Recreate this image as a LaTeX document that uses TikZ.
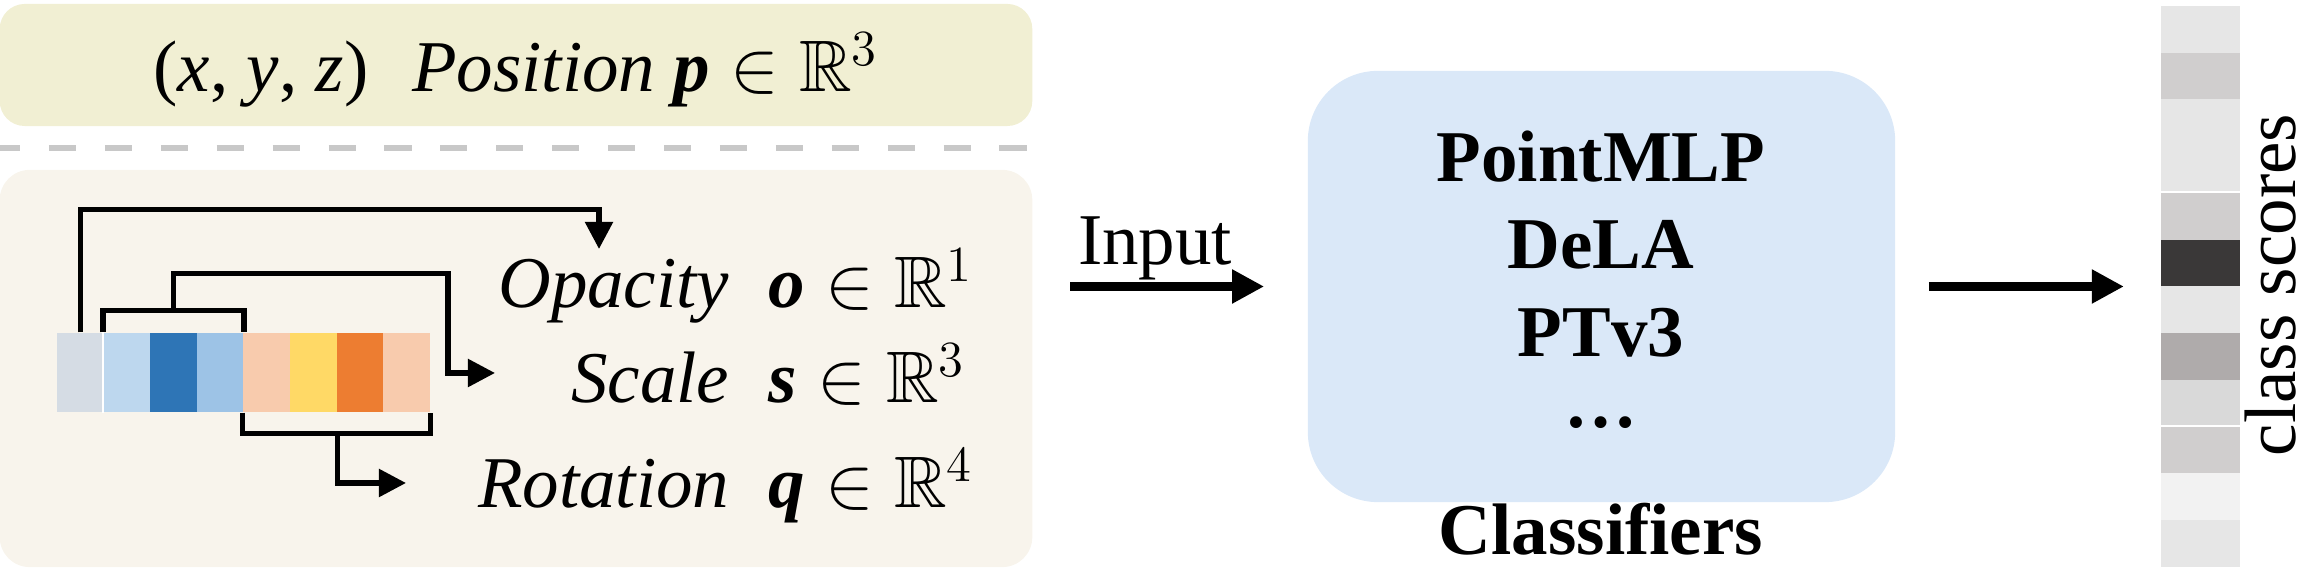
\documentclass[tikz,border=0pt]{standalone}
\usepackage{amsmath, amssymb}
\usepackage{fontspec}
\setmainfont{Liberation Serif}
\usetikzlibrary{positioning, arrows.meta, calc}

\definecolor{posfill}{HTML}{F1EFD3}
\definecolor{attrfill}{HTML}{F8F4EC}
\definecolor{clffill}{HTML}{DAE8F8}
\definecolor{sepgray}{HTML}{C8C8C8}
\definecolor{gsA}{HTML}{D5DCE4}
\definecolor{gsB}{HTML}{BDD7EE}
\definecolor{gsC}{HTML}{2E75B6}
\definecolor{gsD}{HTML}{9DC3E6}
\definecolor{gsE}{HTML}{F8CBAD}
\definecolor{gsF}{HTML}{FFD966}
\definecolor{gsG}{HTML}{ED7D31}
\definecolor{scA}{HTML}{E6E6E6}
\definecolor{scB}{HTML}{D0CECE}
\definecolor{scC}{HTML}{AFABAB}
\definecolor{scD}{HTML}{D9D9D9}
\definecolor{scE}{HTML}{3A3838}
\definecolor{scF}{HTML}{F2F2F2}

\begin{document}
\begin{tikzpicture}[
  x=0.01cm, y=-0.01cm,
  every node/.style={font=\fontsize{20.74}{25}\selectfont, inner sep=0pt},
  clfname/.style={font=\fontsize{20.74}{25}\selectfont\bfseries},
  panel/.style={rounded corners=0.3cm, minimum width=10.32cm},
  cell/.style={minimum width=0.466cm, minimum height=0.79cm},
  scorecell/.style={minimum width=0.79cm, minimum height=0.4675cm},
  conn/.style={line width=1.5pt},
  conntip/.style={-{Triangle[length=7.7pt, width=7.7pt]}},
  bigarrow/.style={line width=2.6pt, -{Triangle[length=9.1pt, width=9.1pt]}}
]
\useasboundingbox (0,0) rectangle (2312,571);

% attribute panels
\node[panel, fill=posfill, rounded corners=0.25cm, minimum height=1.22cm] (posbox) at (516,65) {};
\node[panel, fill=attrfill, minimum height=3.97cm] (attrbox) at (516,368.5) {};
\draw[sepgray, line width=1.7pt, dash pattern=on 7.7pt off 8.2pt, dash phase=1.7pt]
  ($(posbox.south west)!0.5!(attrbox.north west)$) -- ($(posbox.south east)!0.5!(attrbox.north east)$);
\node[anchor=base] (postext) at (516,92)
  {(\textit{x}, \textit{y}, \textit{z})\hspace{0.6em}\textit{Position}\ $\text{\bfseries\itshape p}\in\mathbb{R}^{3}$};

% gaussian attribute vector
\foreach \c [count=\i] in {gsA,gsB,gsC,gsD,gsE,gsF,gsG,gsE}
  \node[cell, fill=\c] (c\i) at ({80.3+46.6*(\i-1)},372.5) {};
\draw[white, line width=0.5pt] (c2.north west) -- (c2.south west);

% opacity
\coordinate (optip) at (599,249);
\draw[conn, conntip] (c1.north) -- ++(0,-123) -| (optip);
% scale
\draw[conn] (c2.north west) -- ++(0,-22) -| (c4.north east);
\coordinate (scmid) at ($(c3.north)+(0,-22)$);
\coordinate (sctip) at (495,373);
\draw[conn, conntip] (scmid) -- ++(0,-37) -| ($(sctip)+(-47,0)$) -- (sctip);
% rotation
\draw[conn] (c5.south west) -- ++(0,21) -| (c8.south east);
\coordinate (rtmid) at ($(c6.south east)+(0,21)$);
\coordinate (rttip) at (406,483);
\draw[conn, conntip] (rtmid) |- (rttip);

\node[anchor=base east] (oplab) at (730,308) {\textit{Opacity}};
\node[anchor=base west] (opvec) at (768,308) {$\text{\bfseries\itshape o}\in\mathbb{R}^{1}$};
\node[anchor=base east] (sclab) at (730,403) {\textit{Scale}};
\node[anchor=base west] (scvec) at (768,403) {$\text{\bfseries\itshape s}\in\mathbb{R}^{3}$};
\node[anchor=base east] (rtlab) at (730,508) {\textit{Rotation}};
\node[anchor=base west] (rtvec) at (768,508) {$\text{\bfseries\itshape q}\in\mathbb{R}^{4}$};

% classifiers
\node[fill=clffill, rounded corners=0.7cm, minimum width=5.87cm, minimum height=4.31cm] (clf) at (1601.5,286.5) {};
\node[clfname, anchor=base] (pmlp) at (1601,182) {PointMLP};
\node[clfname, anchor=base] (dela) at (1601,269) {DeLA};
\node[clfname, anchor=base] (ptv3) at (1601,357) {PTv3};
\node[clfname, anchor=base] (more) at (1601,428) {\dots};
\node[clfname, anchor=base] (clfcap) at (1601,555) {Classifiers};

\draw[bigarrow] ($(clf.west)+(-237,0)$) -- ($(clf.west)+(-43,0)$);
\node[anchor=base] (inlab) at (1155,265) {Input};
\draw[bigarrow] ($(clf.east)+(33,0)$) -- ($(clf.east)+(228,0)$);

% class scores
\foreach \c [count=\i] in {scA,scB,scA,scA,scB,scE,scA,scC,scD,scB,scF,scA}
  \node[scorecell, fill=\c] (s\i) at (2200.5,{6+46.75*(\i-0.5)}) {};
\draw[white, line width=0.6pt] (s5.north west) -- (s5.north east);
\draw[white, line width=0.6pt] (s10.north west) -- (s10.north east);
\node[rotate=90, anchor=base] (cslab) at (2295,285) {class scores};
\end{tikzpicture}
\end{document}
